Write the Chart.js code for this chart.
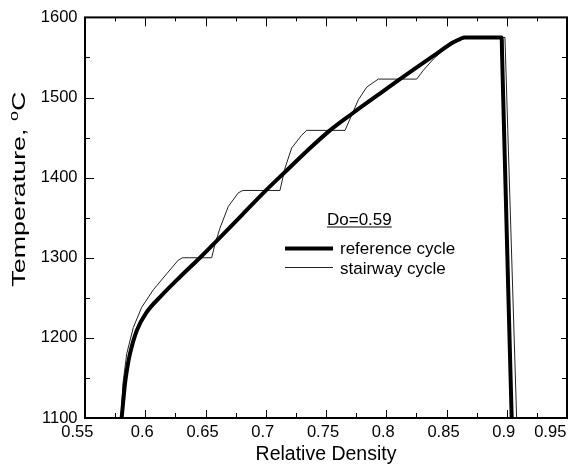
<!DOCTYPE html>
<html>
<head>
<meta charset="utf-8">
<script src="https://cdn.jsdelivr.net/npm/chart.js@4.4.0/dist/chart.umd.min.js"></script>
<style>
  html, body { margin: 0; padding: 0; background: #fff; }
  canvas { display: block; }
</style>
</head>
<body>
<canvas id="line-chartcanvas" width="580" height="468"></canvas>
<script>
// reference cycle (thick line)
var refDensity = [0.5804, 0.5818, 0.5832, 0.5850, 0.5873, 0.5929, 0.6012, 0.6136, 0.6288, 0.6454, 0.6593, 0.680, 0.7008, 0.716, 0.734, 0.7533, 0.7727, 0.792, 0.8114, 0.8391, 0.8557, 0.8612, 0.8650, 0.8958, 0.8961, 0.9041];
var refTemp    = [1100,   1122,   1143,   1162,   1180,   1209,   1232,   1253,   1276,   1300,   1321,   1353,  1385,   1407,  1433,  1459,   1481,   1502,  1523,   1552,   1569,   1573,   1575,   1575,   1555,   1100];

// stairway cycle (thin line)
var stairDensity = [0.5799, 0.5815, 0.5846, 0.5901, 0.597, 0.6067, 0.6178, 0.6274, 0.631, 0.6551, 0.6579, 0.662, 0.6689, 0.6772, 0.681, 0.7118, 0.716, 0.7215, 0.7298, 0.734, 0.7658, 0.7713, 0.7768, 0.7838, 0.7934, 0.8253, 0.8308, 0.8391, 0.8502, 0.857, 0.8612, 0.8985, 0.9082];
var stairTemp    = [1100,   1143,   1180,   1213,   1238,  1260,   1280,   1297,   1300,  1300,   1317,   1337,  1364,   1381,   1384,  1384,   1412,  1437,   1453,   1459,  1459,   1478,   1497,   1513,   1523,   1523,   1534,   1548,   1563,   1571,  1574,   1575,   1100];

var xTicks = [0.55, 0.6, 0.65, 0.7, 0.75, 0.8, 0.85, 0.9, 0.95];
var xTickLabels = ['0.55', '0.6', '0.65', '0.7', '0.75', '0.8', '0.85', '0.9', '0.95'];
var yTicks = [1100, 1200, 1300, 1400, 1500, 1600];

var seriesNames = ['reference cycle', 'stairway cycle'];
var noteText = 'Do=0.59';
var xTitle = 'Relative Density';
var yTitleMain = 'Temperature, ';
var yTitleSup = 'o';
var yTitleUnit = 'C';

var FONT = '"Liberation Sans", Arial, Helvetica, sans-serif';

function toPoints(xs, ys) {
  var pts = [];
  for (var i = 0; i < xs.length; i++) pts.push({x: xs[i], y: ys[i]});
  return pts;
}

function line(ctx, x1, y1, x2, y2) {
  ctx.beginPath();
  ctx.moveTo(x1, y1);
  ctx.lineTo(x2, y2);
  ctx.stroke();
}

// frame with inward ticks on all four sides
var framePlugin = {
  id: 'frame',
  afterDatasetsDraw: function(chart) {
    var ctx = chart.ctx, a = chart.chartArea;
    var xs = chart.scales.x, ys = chart.scales.y;
    ctx.save();
    ctx.strokeStyle = '#000';
    ctx.lineWidth = 1;
    for (var i = 0; i < xTicks.length; i++) {
      var px = Math.round(xs.getPixelForValue(xTicks[i])) + 0.5;
      line(ctx, px, a.bottom, px, a.bottom - 8);
      line(ctx, px, a.top, px, a.top + 9);
      if (i < xTicks.length - 1) {
        var mx = Math.round(xs.getPixelForValue((xTicks[i] + xTicks[i + 1]) / 2)) + 0.5;
        line(ctx, mx, a.bottom, mx, a.bottom - 5);
        line(ctx, mx, a.top, mx, a.top + 4);
      }
    }
    for (var j = 0; j < yTicks.length; j++) {
      var py = Math.round(ys.getPixelForValue(yTicks[j])) + 0.5;
      line(ctx, a.left, py, a.left + 9, py);
      line(ctx, a.right, py, a.right - 6, py);
      if (j < yTicks.length - 1) {
        var my = Math.round(ys.getPixelForValue((yTicks[j] + yTicks[j + 1]) / 2)) + 0.5;
        line(ctx, a.left, my, a.left + 5, my);
        line(ctx, a.right, my, a.right - 5, my);
      }
    }
    ctx.lineWidth = 2;
    ctx.strokeRect(a.left, a.top, a.right - a.left, a.bottom - a.top);
    ctx.restore();
  }
};

// rotated y title with superscript o, and the in-plot legend
var labelsPlugin = {
  id: 'labels',
  afterDraw: function(chart) {
    var ctx = chart.ctx;
    var ds = chart.data.datasets;
    ctx.save();
    ctx.fillStyle = '#000';
    ctx.strokeStyle = '#000';
    ctx.textBaseline = 'alphabetic';
    ctx.textAlign = 'left';

    // y title
    ctx.font = '18px ' + FONT;
    var w1 = ctx.measureText(yTitleMain).width;
    var w3 = ctx.measureText(yTitleUnit).width;
    ctx.font = '12px ' + FONT;
    var w2 = ctx.measureText(yTitleSup).width;
    var s = 195 / (w1 + w2 + w3);
    ctx.save();
    ctx.translate(24.5, 286.7);
    ctx.rotate(-Math.PI / 2);
    ctx.scale(s, 1);
    ctx.font = '18px ' + FONT;
    ctx.fillText(yTitleMain, 0, 0);
    ctx.font = '12px ' + FONT;
    ctx.fillText(yTitleSup, w1, -6.5);
    ctx.font = '18px ' + FONT;
    ctx.fillText(yTitleUnit, w1 + w2, 0);
    ctx.restore();

    // note
    ctx.font = '17px ' + FONT;
    ctx.fillText(noteText, 327, 224.5);
    var nw = ctx.measureText(noteText).width;
    ctx.lineWidth = 1;
    line(ctx, 327, 227, 327 + nw, 227);

    // legend
    ctx.lineWidth = ds[0].borderWidth;
    line(ctx, 285, 248.5, 333, 248.5);
    ctx.fillText(ds[0].label, 340, 253.5);
    ctx.lineWidth = ds[1].borderWidth;
    ctx.strokeStyle = ds[1].borderColor;
    line(ctx, 285, 267.5, 333, 267.5);
    ctx.fillText(ds[1].label, 340, 274);
    ctx.restore();
  }
};

var ctx = document.getElementById('line-chartcanvas');

var data = {
  datasets: [
    {
      label: seriesNames[0],
      data: toPoints(refDensity, refTemp),
      borderColor: '#000',
      backgroundColor: '#000',
      borderWidth: 4,
      fill: false,
      cubicInterpolationMode: 'monotone',
      pointRadius: 0,
      borderJoinStyle: 'round'
    },
    {
      label: seriesNames[1],
      data: toPoints(stairDensity, stairTemp),
      borderColor: '#222',
      backgroundColor: '#222',
      borderWidth: 1,
      fill: false,
      tension: 0,
      pointRadius: 0
    }
  ]
};

var options = {
  responsive: false,
  animation: false,
  devicePixelRatio: 1,
  layout: { padding: { top: 15, right: 13, left: 0, bottom: 0 } },
  plugins: {
    legend: { display: false },
    tooltip: { enabled: false }
  },
  scales: {
    x: {
      type: 'linear',
      min: 0.55,
      max: 0.95,
      grid: { display: false, drawTicks: false },
      border: { display: false },
      afterBuildTicks: function(scale) {
        scale.ticks = xTicks.map(function(v) { return {value: v}; });
      },
      afterFit: function(scale) {
        scale.height = 50;
        scale.paddingLeft = 0;
        scale.paddingRight = 0;
      },
      ticks: {
        padding: 5,
        labelOffset: -3,
        maxRotation: 0,
        autoSkip: false,
        color: '#000',
        font: { family: FONT, size: 16.5 },
        callback: function(v, i) {
          var lbl = xTickLabels[i];
          if (i === xTicks.length - 1) lbl += '      ';
          if (i === 0) lbl += '  ';
          return lbl;
        }
      },
      title: {
        display: true,
        text: xTitle,
        color: '#000',
        font: { family: FONT, size: 19.5 },
        padding: { top: 0, bottom: 2 }
      }
    },
    y: {
      type: 'linear',
      min: 1100,
      max: 1600,
      grid: { display: false, drawTicks: false },
      border: { display: false },
      afterBuildTicks: function(scale) {
        scale.ticks = yTicks.map(function(v) { return {value: v}; });
      },
      afterFit: function(scale) {
        scale.width = 85;
      },
      ticks: {
        padding: 7.5,
        color: '#000',
        font: { family: FONT, size: 16.5 },
        callback: function(v) { return String(v); }
      }
    }
  }
};

var chart = new Chart(ctx, {
  type: 'line',
  data: data,
  options: options,
  plugins: [framePlugin, labelsPlugin]
});
</script>
</body>
</html>
